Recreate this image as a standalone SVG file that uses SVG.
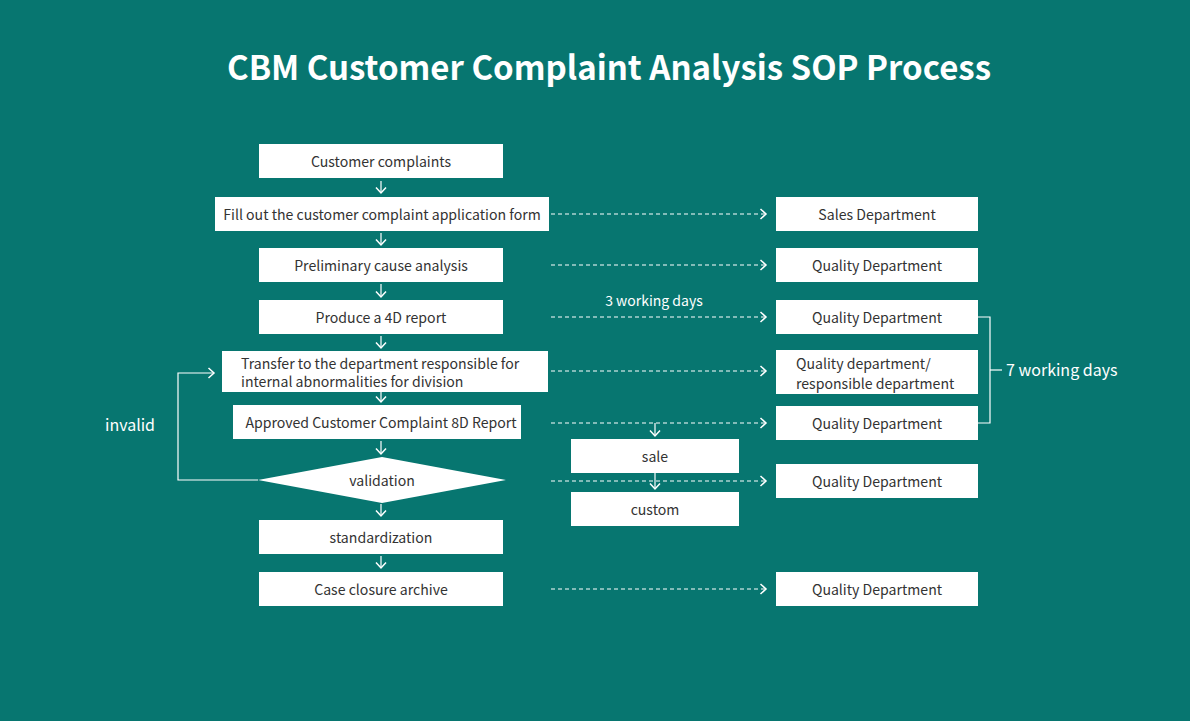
<svg xmlns="http://www.w3.org/2000/svg" width="1190" height="721" viewBox="0 0 1190 721">
<defs>
<style>
.bg{fill:#077670}
.box{fill:#ffffff}
.t{font-family:"Noto Sans CJK SC","Noto Sans",sans-serif;font-size:14.1px;fill:#333333}
.tc{text-anchor:middle}
.w{font-family:"Noto Sans CJK SC","Noto Sans",sans-serif;font-size:16px;fill:#ffffff}
.title{font-family:"Noto Sans CJK SC","Noto Sans",sans-serif;font-size:33px;font-weight:bold;fill:#ffffff;text-anchor:middle}
.ln{stroke:#ffffff;stroke-width:1.2;fill:none}
.dash{stroke:#ffffff;stroke-width:1.2;fill:none;stroke-dasharray:4 3}
</style>
<marker id="ah" viewBox="0 0 12 12" refX="7" refY="6" markerWidth="12" markerHeight="12" markerUnits="userSpaceOnUse" orient="auto">
<path d="M1.5,1 L7,6 L1.5,11" fill="none" stroke="#ffffff" stroke-width="1.5"/>
</marker>
</defs>
<rect class="bg" x="0" y="0" width="1190" height="721"/>
<text class="title" x="609" y="80">CBM Customer Complaint Analysis SOP Process</text>

<g id="connectors">
<line class="ln" x1="381" y1="181" x2="381" y2="193" marker-end="url(#ah)"/>
<line class="ln" x1="381" y1="233" x2="381" y2="245" marker-end="url(#ah)"/>
<line class="ln" x1="381" y1="284" x2="381" y2="297" marker-end="url(#ah)"/>
<line class="ln" x1="381" y1="336" x2="381" y2="348" marker-end="url(#ah)"/>
<line class="ln" x1="381" y1="391" x2="381" y2="402" marker-end="url(#ah)"/>
<line class="ln" x1="381" y1="441" x2="381" y2="454" marker-end="url(#ah)"/>
<line class="ln" x1="381" y1="504" x2="381" y2="516" marker-end="url(#ah)"/>
<line class="ln" x1="381" y1="556" x2="381" y2="568" marker-end="url(#ah)"/>
<line class="dash" x1="551" y1="214" x2="766" y2="214" marker-end="url(#ah)"/>
<line class="dash" x1="551" y1="265" x2="766" y2="265" marker-end="url(#ah)"/>
<line class="dash" x1="551" y1="317" x2="766" y2="317" marker-end="url(#ah)"/>
<line class="dash" x1="551" y1="371" x2="766" y2="371" marker-end="url(#ah)"/>
<line class="dash" x1="551" y1="423" x2="766" y2="423" marker-end="url(#ah)"/>
<line class="dash" x1="551" y1="481" x2="766" y2="481" marker-end="url(#ah)"/>
<line class="dash" x1="551" y1="589" x2="766" y2="589" marker-end="url(#ah)"/>
<line class="ln" x1="655" y1="423" x2="655" y2="436" marker-end="url(#ah)"/>
<line class="ln" x1="655" y1="473" x2="655" y2="489" marker-end="url(#ah)"/>
<polyline class="ln" points="258,480 178,480 178,373 214,373" marker-end="url(#ah)"/>
<polyline class="ln" points="978,317 990,317 990,423 978,423"/>
<line class="ln" x1="990" y1="370" x2="1002" y2="370"/>
</g>

<g id="n1"><rect class="box" x="259" y="144" width="244" height="34"/><text class="t tc" x="381" y="167">Customer complaints</text></g>
<g id="n2"><rect class="box" x="215" y="197" width="334" height="34"/><text class="t tc" x="382" y="220">Fill out the customer complaint application form</text></g>
<g id="n3"><rect class="box" x="259" y="248" width="244" height="34"/><text class="t tc" x="381" y="271">Preliminary cause analysis</text></g>
<g id="n4"><rect class="box" x="259" y="300" width="244" height="34"/><text class="t tc" x="381" y="323">Produce a 4D report</text></g>
<g id="n5"><rect class="box" x="222" y="351" width="326" height="41"/><text class="t" x="241" y="368.5">Transfer to the department responsible for</text><text class="t" x="241" y="387">internal abnormalities for division</text></g>
<g id="n6"><rect class="box" x="233" y="405" width="288" height="34"/><text class="t tc" x="381" y="428">Approved Customer Complaint 8D Report</text></g>
<g id="n7"><polygon class="box" points="258,480 382,457 506,480 382,503"/><text class="t tc" x="382" y="486">validation</text></g>
<g id="n8"><rect class="box" x="259" y="520" width="244" height="34"/><text class="t tc" x="381" y="543">standardization</text></g>
<g id="n9"><rect class="box" x="259" y="572" width="244" height="34"/><text class="t tc" x="381" y="595">Case closure archive</text></g>

<g id="r1"><rect class="box" x="776" y="197" width="202" height="34"/><text class="t tc" x="877" y="220">Sales Department</text></g>
<g id="r2"><rect class="box" x="776" y="248" width="202" height="34"/><text class="t tc" x="877" y="271">Quality Department</text></g>
<g id="r3"><rect class="box" x="776" y="300" width="202" height="34"/><text class="t tc" x="877" y="323">Quality Department</text></g>
<g id="r4"><rect class="box" x="776" y="350" width="202" height="44"/><text class="t" x="796" y="369">Quality department/</text><text class="t" x="796" y="389">responsible department</text></g>
<g id="r5"><rect class="box" x="776" y="406" width="202" height="34"/><text class="t tc" x="877" y="429">Quality Department</text></g>
<g id="r6"><rect class="box" x="776" y="464" width="202" height="34"/><text class="t tc" x="877" y="487">Quality Department</text></g>
<g id="r7"><rect class="box" x="776" y="572" width="202" height="34"/><text class="t tc" x="877" y="595">Quality Department</text></g>

<g id="sale"><rect class="box" x="571" y="439" width="168" height="34"/><text class="t tc" x="655" y="462">sale</text></g>
<g id="custom"><rect class="box" x="571" y="492" width="168" height="34"/><text class="t tc" x="655" y="515">custom</text></g>

<text class="w tc" x="654" y="306" style="font-size:14px">3 working days</text>
<text class="w" x="1006" y="376">7 working days</text>
<text class="w tc" x="130" y="431">invalid</text>
</svg>
